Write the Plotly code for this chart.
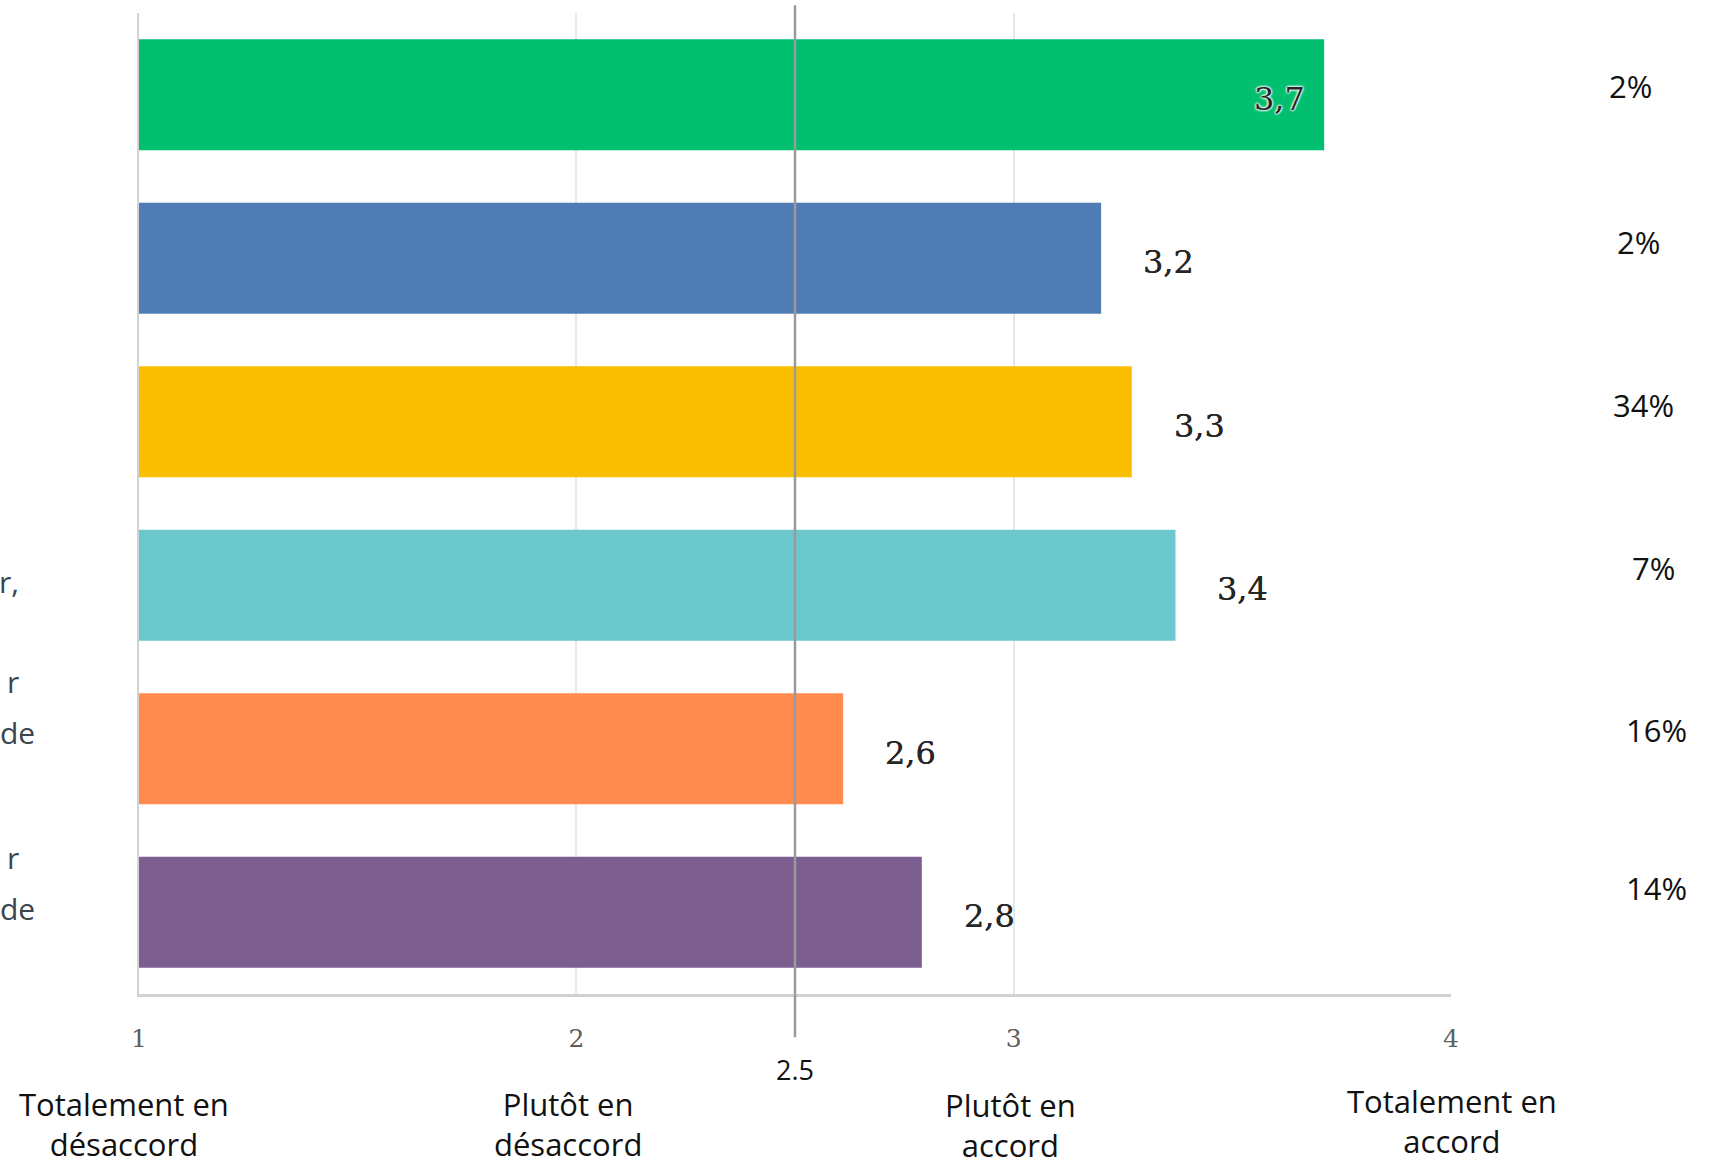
import plotly.graph_objects as go

# data
items = ["Q1", "Q2", "Q3", "Q4", "Q5", "Q6"]
scores = [3.71, 3.20, 3.27, 3.37, 2.61, 2.79]
score_labels = ["3,7", "3,2", "3,3", "3,4", "2,6", "2,8"]
shares = ["2%", "2%", "34%", "7%", "16%", "14%"]
colors = ["#00BF6F", "#507CB6", "#F9BE00", "#6BC8CD", "#FF8B4F", "#7D5E90"]
scale_vals = [1, 2, 3, 4]
scale_names = ["Totalement en<br>désaccord", "Plutôt en<br>désaccord",
               "Plutôt en<br>accord", "Totalement en<br>accord"]
midpoint = 2.5

# layout-only tweaks (positions of the side texts)
share_x = [1.137, 1.143, 1.147, 1.154, 1.157, 1.157]
share_dy = [9, 16, 17, 17, 19, 24]
scale_name_shift = [(-15, -130), (-8, -130), (-3, -131), (1, -127)]
left_bits = [(3, "r,", 4), (4, "r", 67), (4, "de", 16), (5, "r", 55), (5, "de", 4)]

fig = go.Figure()
fig.add_trace(go.Bar(
    x=scores, y=items, orientation='h', width=0.68,
    marker=dict(color=colors, line=dict(width=0)),
    hoverinfo='skip'
))

annotations = []
for i, (v, lab) in enumerate(zip(scores, score_labels)):
    inside = v >= max(scores)
    glow = '0 0 2px white, 0 0 2px white, 0 0 3px white, 0 0 3px white'
    annotations.append(dict(
        x=v, y=items[i], xref='x', yref='y',
        text=lab, showarrow=False,
        xanchor='right' if inside else 'left',
        xshift=-17 if inside else 40, yshift=-4,
        font=dict(family='DejaVu Serif', size=32, color='#262626',
                  shadow=glow if inside else '0 0 0.5px #262626')
    ))

for i, s in enumerate(shares):
    annotations.append(dict(
        x=share_x[i], y=items[i], xref='paper', yref='y',
        text=s, showarrow=False, xanchor='center', yshift=share_dy[i],
        font=dict(family='Open Sans', size=31, color='#111111')
    ))

for (xv, name), (dx, dy) in zip(zip(scale_vals, scale_names), scale_name_shift):
    annotations.append(dict(
        x=xv, y=0, xref='x', yref='paper', text=name, showarrow=False,
        xanchor='center', yanchor='middle', xshift=dx, yshift=dy,
        font=dict(family='Open Sans', size=31, color='#111111')
    ))

annotations.append(dict(
    x=midpoint, y=0, xref='x', yref='paper', text=str(midpoint),
    showarrow=False, xanchor='center', yanchor='middle', yshift=-75,
    font=dict(family='Open Sans', size=27, color='#111111')
))

for row, txt, dy in left_bits:
    annotations.append(dict(
        x=0, y=items[row], xref='paper', yref='y', text=txt, showarrow=False,
        xanchor='right', xshift=-102 if txt == "de" else -118, yshift=dy,
        font=dict(family='Open Sans', size=30, color='#3a4650')
    ))

fig.add_shape(type='line', x0=midpoint, x1=midpoint, xref='x', yref='paper',
              y0=-0.044, y1=1.008, line=dict(color='#9a9a9a', width=2.5), layer='above')

fig.update_layout(
    width=1716, height=1166,
    margin=dict(l=139, r=265, t=13, b=172),
    plot_bgcolor='white', paper_bgcolor='white',
    showlegend=False, bargap=0.32,
    annotations=annotations,
    xaxis=dict(range=[1, 4], tickvals=scale_vals, ticktext=[str(v) for v in scale_vals],
               showgrid=True, gridcolor='#e8e8e8', gridwidth=1.5,
               showline=True, linecolor='#d2d2d2', linewidth=2.5,
               zeroline=False, ticks='', ticklabelstandoff=20,
               tickfont=dict(family='DejaVu Serif', size=25, color='#5e5e5e')),
    yaxis=dict(categoryorder='array', categoryarray=items, autorange='reversed',
               showticklabels=False, showgrid=False, zeroline=False,
               showline=True, linecolor='#d2d2d2', linewidth=2)
)

# drop the default page margin so the chart sits at the window's corner
fig.write_html("out.html", config={'displayModeBar': False},
               post_script="document.body.style.margin='0px';")
